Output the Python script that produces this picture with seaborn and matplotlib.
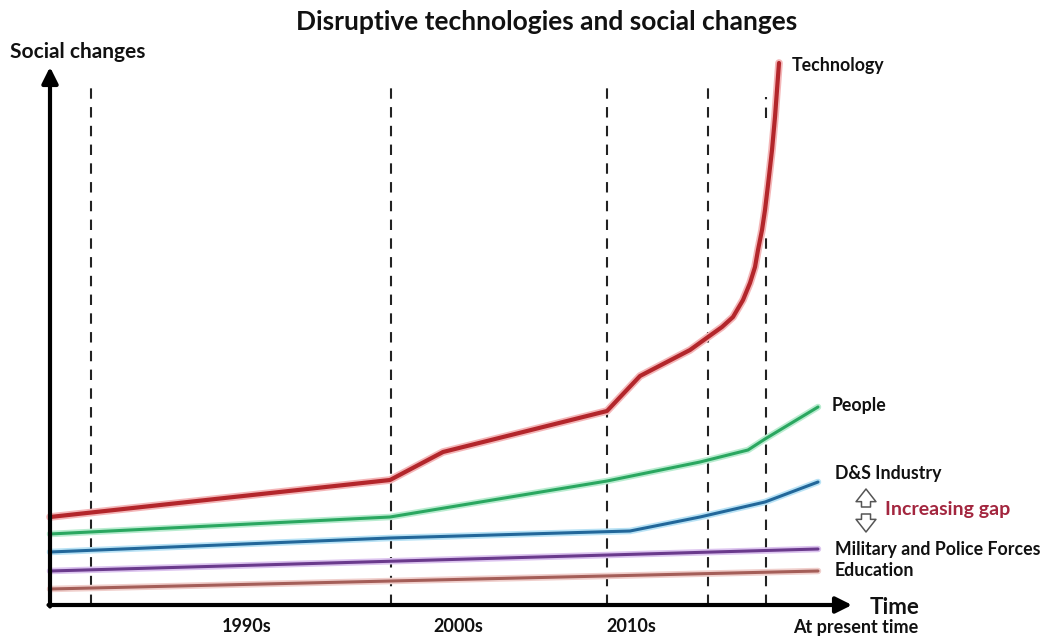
import matplotlib
matplotlib.use("Agg")
import matplotlib.pyplot as plt
import matplotlib.patheffects as pe
import seaborn as sns

# time axis runs from the origin to the right, "social change" runs upwards
tech_x = [0, 340, 393, 557, 590, 640, 658, 672, 683, 693, 700, 705, 708, 712, 715, 718, 722, 725, 729]
tech_y = [88, 125, 153, 194, 229, 255, 268, 278, 288, 305, 322, 338, 355, 375, 395, 420, 455, 488, 542]

people_x = [0, 340, 557, 650, 698, 715, 768]
people_y = [71, 88, 124, 143, 155, 166, 198]

industry_x = [0, 340, 580, 650, 715, 768]
industry_y = [53, 67, 74, 88, 103, 123]

military_x = [0, 768]
military_y = [34, 56]

education_x = [0, 768]
education_y = [16, 34]

period_lines = [41, 341, 557, 658, 716]
period_names = ["1990s", "2000s", "2010s", "At present time"]
period_label_x = [197, 408, 581, 806]

series = [
    ("Technology", tech_x, tech_y, "#b3262b", "#f4b6b8", 3.0),
    ("People", people_x, people_y, "#2aa760", "#b9ecd0", 2.2),
    ("D&S Industry", industry_x, industry_y, "#22679a", "#b8e2f5", 2.2),
    ("Military and Police Forces", military_x, military_y, "#6a3a8c", "#dcc4ef", 2.2),
    ("Education", education_x, education_y, "#a45e58", "#f0cfcc", 2.2),
]
label_pos = {
    "Technology": (742, 540),
    "People": (782, 200),
    "D&S Industry": (785, 131),
    "Military and Police Forces": (785, 56),
    "Education": (785, 34),
}

sns.set_style("white")
plt.rcParams["font.family"] = ["Lato", "DejaVu Sans"]

fig = plt.figure(figsize=(10.47, 6.36), dpi=100)
ax = fig.add_axes([0, 0, 1, 1])
ax.set_xlim(-50, 997)
ax.set_ylim(-31, 605)
ax.axis("off")

# period separators
dash = dict(color="#222222", lw=1.5, ls=(0, (5, 4)), zorder=1)
for i, px in enumerate(period_lines):
    top = 524 if i < 4 else 372
    ax.plot([px, px], [0, top], **dash)
ax.plot([716, 716], [487, 508], **dash)

for name, xs, ys, col, glow, lw in series:
    sns.lineplot(x=xs, y=ys, color=col, lw=lw, ax=ax, zorder=3,
                 path_effects=[pe.Stroke(linewidth=lw + 2.5, foreground=glow), pe.Normal()])
    lx, ly = label_pos[name]
    ax.text(lx, ly, name, fontsize=12.8, fontweight="bold", va="center", ha="left", color="#111111")

# axes arrows
ax.annotate("", xy=(0, 538), xytext=(0, -1.5),
            arrowprops=dict(arrowstyle="-|>", lw=3, color="black", mutation_scale=24, shrinkA=0, shrinkB=0))
ax.annotate("", xy=(802, 0), xytext=(-1.5, 0),
            arrowprops=dict(arrowstyle="-|>", lw=3, color="black", mutation_scale=24, shrinkA=0, shrinkB=0))

for name, px in zip(period_names, period_label_x):
    ax.text(px, -22, name, fontsize=13, fontweight="bold", ha="center", va="center", color="#111111")

ax.text(820, -2, "Time", fontsize=16, fontweight="bold", ha="left", va="center", color="#111111")
ax.text(-40, 553, "Social changes", fontsize=15, fontweight="bold", ha="left", va="center", color="#111111")
ax.text(497, 583, "Disruptive technologies and social changes", fontsize=19, fontweight="bold",
        ha="center", va="center", color="#111111")

# gap annotation: hollow up / down arrows
hollow = dict(arrowstyle="simple,head_width=1.1,head_length=0.7,tail_width=0.5",
              fc="white", ec="#555555", lw=1.1, shrinkA=0, shrinkB=0, mutation_scale=13)
ax.annotate("", xy=(816, 116), xytext=(816, 98), arrowprops=hollow)
ax.annotate("", xy=(816, 73), xytext=(816, 91), arrowprops=hollow)
ax.text(835, 95, "Increasing gap", fontsize=14, fontweight="bold", ha="left", va="center", color="#a3263f")

fig.savefig("out.png", dpi=100)
